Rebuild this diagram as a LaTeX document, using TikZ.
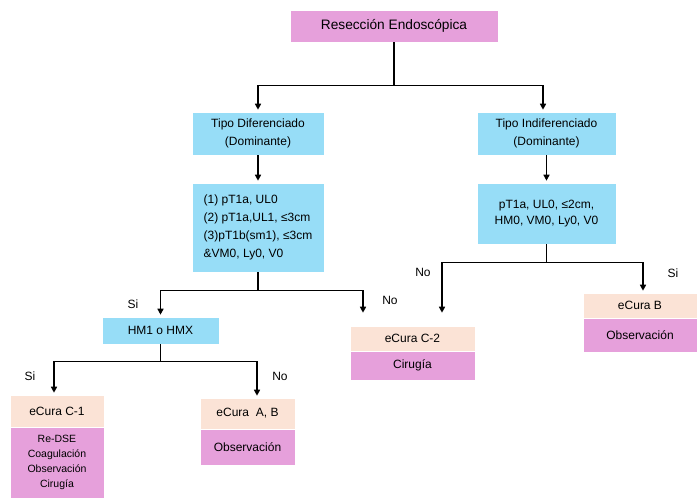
\documentclass[tikz,border=0pt]{standalone}
\usepackage{fontspec}
\setmainfont{Liberation Sans}
\usetikzlibrary{arrows.meta}
\definecolor{celeste}{RGB}{151,221,247}
\definecolor{rosa}{RGB}{230,160,219}
\definecolor{durazno}{RGB}{251,227,214}
\tikzset{
	caja/.style={draw=white, line width=0.6pt, inner sep=0pt, align=center, font=\fontsize{12}{18}\selectfont},
	tipo/.style={caja, fill=celeste},
	ecura/.style={caja, fill=durazno},
	manejo/.style={caja, fill=rosa},
	linea/.style={line width=1.5pt},
	flecha/.style={linea, -{Triangle[length=6pt,width=6pt]}, shorten >=2pt},
	rama/.style={font=\fontsize{12}{14}\selectfont}
}

\begin{document}
\begin{tikzpicture}[x=1pt, y=-1pt]
	\useasboundingbox (0,0) rectangle (699,499);
	
	%resection
	\node[manejo, minimum width=208, minimum height=32, font=\fontsize{13.7}{16}\selectfont] (top) at (394,26) {Resección Endoscópica};
	
	%differentiated type
	\node[tipo, minimum width=132, minimum height=43] (dif) at (258,133.5) {Tipo Diferenciado\\(Dominante)};
	\node[tipo, minimum width=132, minimum height=89, align=left] (difc) at (258,227.5) {(1) pT1a, UL0\\(2) pT1a,UL1, ≤3cm\\(3)pT1b(sm1), ≤3cm\\\&VM0, Ly0, V0};
	\node[tipo, minimum width=117, minimum height=27] (hm) at (160.5,330.5) {HM1 o HMX};
	\node[ecura, minimum width=94, minimum height=32] (c1) at (57,411) {eCura C-1};
	\node[manejo, minimum width=94, minimum height=71, font=\fontsize{10.5}{15}\selectfont] (c1t) at (57,462.5) {Re-DSE\\Coagulación\\Observación\\Cirugía};
	\node[ecura, minimum width=95, minimum height=31] (ab) at (247.5,413.5) {eCura~ A, B};
	\node[manejo, minimum width=95, minimum height=36] (abt) at (247.5,447) {Observación};
	
	%undifferentiated type
	\node[tipo, minimum width=139, minimum height=43] (ind) at (546.5,133.5) {Tipo Indiferenciado\\(Dominante)};
	\node[tipo, minimum width=139, minimum height=61, font=\fontsize{12}{16}\selectfont] (indc) at (546.5,213.5) {pT1a, UL0, ≤2cm,\\HM0, VM0, Ly0, V0};
	\node[ecura, minimum width=125, minimum height=25] (c2) at (412.5,338.5) {eCura C-2};
	\node[manejo, minimum width=125, minimum height=29] (c2t) at (412.5,365.5) {Cirugía};
	\node[ecura, minimum width=114, minimum height=25] (b) at (640,305.5) {eCura B};
	\node[manejo, minimum width=114, minimum height=34] (bt) at (640,335) {Observación};
	
	%connectors
	\draw[linea] (top.south) -- ++(0,43) coordinate (j1);
	\draw[flecha] (j1) -| (dif.north);
	\draw[flecha] (j1) -| ([xshift=-3.5pt]ind.north);
	\draw[flecha] (dif) -- (difc);
	\draw[flecha] (ind) -- (indc);
	
	\draw[linea] (difc.south) -- ++(0,18) coordinate (j2);
	\draw[flecha] (j2) -| (hm.north);
	\draw[flecha, shorten >=13pt] (j2) -| ([xshift=-49.5pt]c2.north);
	
	\draw[linea] (indc.south) -- ++(0,18) coordinate (j3);
	\draw[flecha, shorten >=13pt] (j3) -| ([xshift=29.5pt]c2.north);
	\draw[flecha] (j3) -| ([xshift=3pt]b.north);
	
	\draw[linea] (hm.south) -- ++(0,17) coordinate (j4);
	\draw[flecha] (j4) -| ([xshift=-3pt]c1.north);
	\draw[flecha] (j4) -| ([xshift=9.5pt]ab.north);
	
	%branch labels
	\foreach \x/\y/\txt [count=\i] in {133/304/Si, 390/300/No, 30/376/Si, 280/376/No, 423/272/No, 673/273/Si}
		{
		\node[rama] (lbl\i) at (\x,\y) {\txt};
		}
\end{tikzpicture}
\end{document}
